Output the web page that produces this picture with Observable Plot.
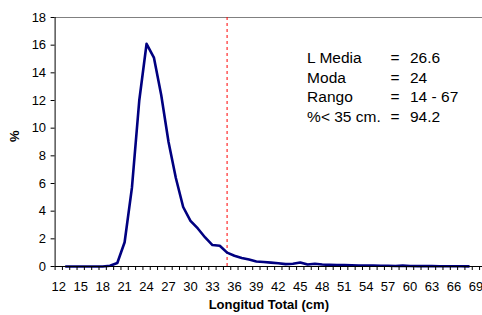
<!DOCTYPE html>
<html><head><meta charset="utf-8">
<script src="https://cdn.jsdelivr.net/npm/d3@7"></script>
<script src="https://cdn.jsdelivr.net/npm/@observablehq/plot@0.6"></script>
<style>body{margin:0;background:#fff;} svg{display:block;}</style>
</head><body><div id="chart"></div>
<script>
const lengths = [13,14,15,16,17,18,19,20,21,22,23,24,25,26,27,28,29,30,31,32,33,34,35,36,37,38,39,40,
  41,42,43,44,45,46,47,48,49,50,51,52,53,54,55,56,57,58,59,60,61,62,63,64,65,66,67,68];
const percents = [0,0,0,0,0,0,0.05,0.25,1.75,5.7,12.0,16.1,15.1,12.4,9.0,6.4,4.3,3.3,2.75,2.1,1.55,1.5,1.0,0.78,0.62,0.5,0.36,0.32,
  0.28,0.24,0.17,0.2,0.29,0.14,0.2,0.14,0.12,0.1,0.1,0.08,0.07,0.06,0.06,0.05,0.05,0.04,0.06,0.04,0.03,0.03,0.03,0.02,0.02,0.02,0.02,0.01];
const xTickLabels = [12,15,18,21,24,27,30,33,36,39,42,45,48,51,54,57,60,63,66,69];
const yTicks = [0,2,4,6,8,10,12,14,16,18];
const cutoff = 35;
const statLabels = ["L Media","Moda","Rango","%< 35 cm."];
const statValues = ["26.6","24","14 - 67","94.2"];

const data = lengths.map((l,i)=>({len:l, pct:percents[i]}));
const boundaries = d3.range(11.5, 70, 1);
const font = "Liberation Sans, Arial, sans-serif";

const statMarks = [];
statLabels.forEach((lab,i)=>{
  const dy = 40.3 + i*19.8;
  statMarks.push(Plot.text([lab], {text:d=>d, frameAnchor:"top-left", dx:252, dy, textAnchor:"start", lineAnchor:"middle", fontSize:15.5, fill:"#000"}));
  statMarks.push(Plot.text(["="], {text:d=>d, frameAnchor:"top-left", dx:339.9, dy, textAnchor:"middle", lineAnchor:"middle", fontSize:15.5, fill:"#000"}));
  statMarks.push(Plot.text([statValues[i]], {text:d=>d, frameAnchor:"top-left", dx:354.9, dy, textAnchor:"start", lineAnchor:"middle", fontSize:15.5, fill:"#000"}));
});

const chart = Plot.plot({
  width:482, height:315, marginLeft:54.6, marginRight:0, marginTop:17, marginBottom:49,
  style:{fontFamily:font, fontSize:"13px", color:"#000", background:"#fff"},
  x:{type:"linear", domain:[11.5, 69.9]},
  y:{domain:[0,18]},
  marks:[
    Plot.ruleY([18], {stroke:"#808080", strokeWidth:1}),
    Plot.ruleX([cutoff], {stroke:"#ff0000", strokeDasharray:"3,3", strokeWidth:1}),
    Plot.line(data, {x:"len", y:"pct", stroke:"#000080", strokeWidth:2.6}),
    Plot.ruleX([11.5], {stroke:"#000", strokeWidth:1}),
    Plot.ruleY([0], {stroke:"#000", strokeWidth:1}),
    Plot.axisY({ticks:yTicks, tickSize:4, tickPadding:5, label:null, fontSize:13}),
    Plot.axisX({ticks:boundaries, tickSize:4, tickFormat:()=>"", label:null}),
    Plot.axisX({ticks:xTickLabels, tickSize:0, tickPadding:15, label:null, fontSize:13}),
    Plot.text(["%"], {text:d=>d, frameAnchor:"left", dx:-40, rotate:-90, fontWeight:"bold", fontSize:13, fill:"#000"}),
    Plot.text(["Longitud Total (cm)"], {text:d=>d, frameAnchor:"bottom", dy:42, fontWeight:"bold", fontSize:13, fill:"#000"}),
    ...statMarks
  ]
});
document.getElementById("chart").appendChild(chart);
</script>
</body></html>
